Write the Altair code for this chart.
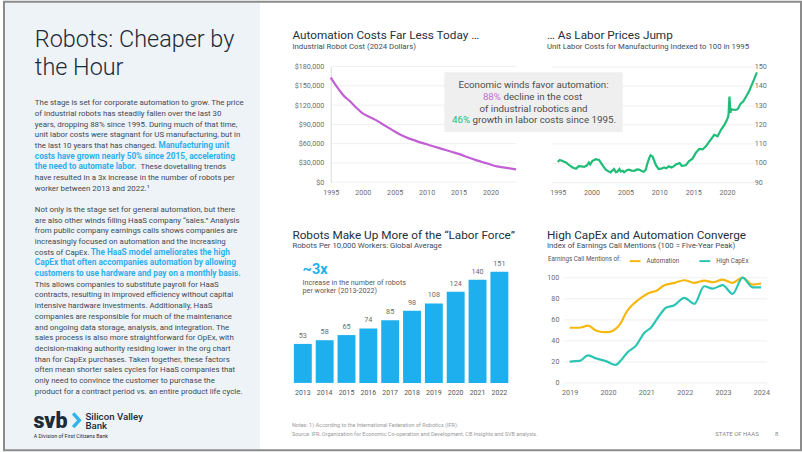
import altair as alt
import pandas as pd

# ---------------- palette / fonts ----------------
FONT = "Roboto"
NAVY = "#1c2a39"
BODY = "#3f4954"
HILITE = "#2cb1ee"
PANEL_BG = "#eef3f7"
AXIS_LBL = "#6b6b6b"
GRID = "#ebebeb"
PURPLE = "#c35fd5"
GREEN = "#1fbd78"
BAR_BLUE = "#1eb0ee"
GOLD = "#f6b70f"
TEAL = "#2cc5b3"
TITLE_C = "#223040"
SUB_C = "#3e4c5a"

# ---------------- data ----------------
cost_years = list(range(1995, 2025))
robot_cost = [163000, 148000, 135000, 126000, 116000, 107000, 102000, 97000, 91000, 85000,
              79000, 73500, 69000, 65500, 62000, 59000, 56000, 53000, 50000, 47000,
              44000, 40500, 37000, 33500, 30500, 27500, 24500, 23000, 21500, 20000]
cost_ticks = [0, 30000, 60000, 90000, 120000, 150000, 180000]
year_ticks_top = [1995, 2000, 2005, 2010, 2015, 2020]

labor_time = [1995.0, 1995.3, 1995.7, 1996.2, 1996.7, 1997.2, 1997.7, 1998.1, 1998.5, 1998.9,
              1999.3, 1999.6, 1999.8, 2000.1, 2000.6, 2001.1, 2001.6, 2002.1, 2002.5, 2002.8,
              2003.3, 2003.6, 2003.8, 2004.1, 2004.3, 2004.6, 2004.8, 2005.2, 2005.5, 2005.9,
              2006.3, 2006.7, 2007.0, 2007.4, 2007.7, 2008.0, 2008.2, 2008.5, 2008.7, 2009.0,
              2009.2, 2009.5, 2009.9, 2010.3, 2010.7, 2011.0, 2011.4, 2011.8, 2012.1, 2012.5,
              2013.0, 2013.3, 2013.9, 2014.4, 2014.9, 2015.4, 2015.9, 2016.4, 2016.9, 2017.4,
              2018.1, 2018.6, 2019.1, 2019.6, 2020.0, 2020.2, 2020.35, 2020.5, 2020.6, 2020.9,
              2021.3, 2021.6, 2022.0, 2022.4, 2022.9, 2023.3, 2023.6, 2024.0, 2024.4]
labor_index = [100.5, 101.5, 101.0, 100.2, 98.8, 97.6, 97.0, 98.3, 98.2, 98.0,
               98.6, 100.2, 99.2, 101.0, 101.9, 101.5, 98.8, 96.5, 95.6, 95.1,
               96.8, 95.2, 95.4, 96.8, 95.5, 95.9, 95.1, 96.2, 96.5, 96.0,
               95.9, 96.6, 96.5, 95.8, 95.4, 96.5, 99.3, 102.5, 103.9, 103.3,
               101.5, 98.8, 96.8, 97.0, 97.6, 97.2, 98.2, 97.6, 98.2, 99.3,
               99.9, 98.5, 98.8, 101.0, 102.2, 105.3, 107.3, 107.0, 108.7, 111.2,
               114.6, 113.8, 117.2, 119.7, 122.5, 124.5, 134.5, 126.0, 128.0, 127.6,
               127.5, 128.0, 130.8, 132.0, 135.0, 137.6, 140.1, 143.5, 147.0]
labor_ticks = [90, 100, 110, 120, 130, 140, 150]

bar_years = ["2013", "2014", "2015", "2016", "2017", "2018", "2019", "2020", "2021", "2022"]
robots_per_10k = [53, 58, 65, 74, 85, 98, 108, 124, 140, 151]

auto_time = [2019.0, 2019.25, 2019.48, 2019.7, 2019.9, 2020.05, 2020.2, 2020.34, 2020.47, 2020.65,
             2020.86, 2021.08, 2021.25, 2021.47, 2021.73, 2021.99, 2022.25, 2022.51, 2022.73, 2022.99,
             2023.25, 2023.51, 2023.77, 2023.99]
automation_idx = [52.5, 52.5, 54.5, 49.6, 48.4, 48.6, 51.5, 57.3, 66.8, 74.7,
                  81.0, 85.8, 87.5, 93.0, 95.2, 97.7, 95.2, 97.4, 95.8, 98.4,
                  95.2, 100.3, 93.6, 94.6]
capex_time = [2019.0, 2019.26, 2019.48, 2019.7, 2019.96, 2020.2, 2020.34, 2020.5, 2020.73, 2020.95,
              2021.12, 2021.3, 2021.51, 2021.73, 2021.99, 2022.25, 2022.51, 2022.73, 2022.99, 2023.25,
              2023.51, 2023.77, 2023.99]
capex_idx = [20.3, 20.9, 26.2, 23.2, 20.5, 17.1, 21.5, 28.8, 35.5, 47.8,
             52.6, 62.0, 71.5, 74.0, 81.0, 75.3, 92.0, 89.8, 93.0, 84.8,
             100.3, 91.0, 91.0]
mention_ticks = [0, 20, 40, 60, 80, 100]
mention_years = [2019, 2020, 2021, 2022, 2023, 2024]

# ---------------- text content ----------------
para1 = [
    [("The stage is set for corporate automation to grow. The price", False)],
    [("of industrial robots has steadily fallen over the last 30", False)],
    [("years, dropping 88% since 1995. During much of that time,", False)],
    [("unit labor costs were stagnant for US manufacturing, but in", False)],
    [("the last 10 years that has changed.", False), ("Manufacturing unit", True)],
    [("costs have grown nearly 50% since 2015, accelerating", True)],
    [("the need to automate labor.", True), ("These dovetailing trends", False)],
    [("have resulted in a 3x increase in the number of robots per", False)],
    [("worker between 2013 and 2022.\u00b9", False)],
]
para2 = [
    [("Not only is the stage set for general automation, but there", False)],
    [("are also other winds filling HaaS company \u201csales.\u201d Analysis", False)],
    [("from public company earnings calls shows companies are", False)],
    [("increasingly focused on automation and the increasing", False)],
    [("costs of CapEx.", False), ("The HaaS model ameliorates the high", True)],
    [("CapEx that often accompanies automation by allowing", True)],
    [("customers to use hardware and pay on a monthly basis.", True)],
    [("This allows companies to substitute payroll for HaaS", False)],
    [("contracts, resulting in improved efficiency without capital", False)],
    [("intensive hardware investments. Additionally, HaaS", False)],
    [("companies are responsible for much of the maintenance", False)],
    [("and ongoing data storage, analysis, and integration. The", False)],
    [("sales process is also more straightforward for OpEx, with", False)],
    [("decision-making authority residing lower in the org chart", False)],
    [("than for CapEx purchases. Taken together, these factors", False)],
    [("often mean shorter sales cycles for HaaS companies that", False)],
    [("only need to convince the customer to purchase the", False)],
    [("product for a contract period vs. an entire product life cycle.", False)],
]


def one():
    return pd.DataFrame({"a": [0]})


def label(text, x, y, size, color, weight="normal", align="left", baseline="alphabetic", **kw):
    return alt.Chart(pd.DataFrame({"t": [text]})).mark_text(
        align=align, baseline=baseline, fontSize=size, color=color, fontWeight=weight,
        font=FONT, **kw
    ).encode(x=alt.value(x), y=alt.value(y), text="t:N")


def spacer(w, h):
    return alt.Chart(one()).mark_point(opacity=0).encode(
        x=alt.value(0), y=alt.value(0)).properties(width=w, height=h)


# grid cell geometry (all plot cells share the same height)
H = 116
OY = -66           # left panel drawn relative to the top row of the grid

# ---------------- left text panel ----------------
LEFT_X = 32
LINE_H = 10.72
seg_x = {(0, 4): 156, (0, 6): 138, (1, 4): 88}
rows = []
for p_i, (para, y0) in enumerate([(para1, 102.7), (para2, 210.0)]):
    for l_i, line in enumerate(para):
        for s_i, (txt, bold) in enumerate(line):
            x = LEFT_X if s_i == 0 else seg_x[(p_i, l_i)]
            rows.append({"t": txt, "x": x, "y": y0 + l_i * LINE_H + OY, "bold": bold})
body_df = pd.DataFrame(rows)

enc = dict(x=alt.X("x:Q", scale=None, axis=None), y=alt.Y("y:Q", scale=None, axis=None), text="t:N")
body_normal = alt.Chart(body_df[~body_df.bold]).mark_text(
    align="left", baseline="middle", fontSize=7.9, color=BODY, font=FONT).encode(**enc)
body_bold = alt.Chart(body_df[body_df.bold]).mark_text(
    align="left", baseline="middle", fontSize=8.3, color=HILITE, font=FONT, fontWeight="bold").encode(**enc)

panel_bg = alt.Chart(one()).mark_rect(color=PANEL_BG).encode(
    x=alt.value(0), x2=alt.value(258), y=alt.value(OY), y2=alt.value(452 + OY))
frame = alt.Chart(one()).mark_rect(
    fillOpacity=0, stroke="#8c8c8c", strokeWidth=2).encode(
    x=alt.value(1), x2=alt.value(801), y=alt.value(1 + OY), y2=alt.value(451 + OY))
chevron = alt.Chart(one()).mark_point(
    shape="M-0.4,-1L0.5,0L-0.4,1", filled=False, strokeWidth=3.4, color="#2fb4ee", size=190,
    opacity=1).encode(x=alt.value(73.2), y=alt.value(421 + OY))

left = alt.layer(
    panel_bg,
    label("Robots: Cheaper by", LEFT_X, 46.7 + OY, 23.5, NAVY, weight=300),
    label("the Hour", LEFT_X, 74 + OY, 23.5, NAVY, weight=300),
    body_normal, body_bold,
    label("svb", 30.5, 428.3 + OY, 21.5, NAVY, weight=900),
    chevron,
    label("Silicon Valley", 82.7, 420.3 + OY, 9.7, NAVY, weight=500),
    label("Bank", 82.7, 430.2 + OY, 9.7, NAVY, weight=500),
    label("A Division of First Citizens Bank", 31, 438.6 + OY, 5.3, NAVY),
    frame,
).properties(width=258, height=H)

# ---------------- top-left: robot cost (cell x 290..518, plot 39..225) ----------------
TL_X0, TL_X1 = 39, 225
cost_df = pd.DataFrame({"year": cost_years, "cost": robot_cost})
cost_y = alt.Y("cost:Q", title=None, scale=alt.Scale(domain=[0, 180000], nice=False),
               axis=alt.Axis(values=cost_ticks, format="$,d", grid=False, labelPadding=7,
                             offset=-TL_X0, domain=True, domainColor="#dadada"))
tl_grid = alt.Chart(pd.DataFrame({"cost": cost_ticks})).mark_rule(color=GRID, strokeWidth=0.8).encode(
    y=cost_y, x=alt.value(TL_X0), x2=alt.value(TL_X1))
tl_line = alt.Chart(cost_df).mark_line(color=PURPLE, strokeWidth=2.2, interpolate="monotone").encode(
    x=alt.X("year:Q", title=None,
            scale=alt.Scale(domain=[1995, 2024], range=[TL_X0, TL_X1], nice=False, zero=False),
            axis=alt.Axis(values=year_ticks_top, format="d", grid=False, labelPadding=6,
                          labelFlush=False)),
    y=cost_y,
)
tl = alt.layer(
    tl_grid, tl_line,
    label("Automation Costs Far Less Today \u2026", 0.5, -27.7, 11.8, TITLE_C),
    label("Industrial Robot Cost (2024 Dollars)", 0.5, -17.7, 7.8, SUB_C),
).properties(width=228, height=H)

# ---------------- top-right: labor cost (cell x 550..754) ----------------
labor_df = pd.DataFrame({"t": labor_time, "v": labor_index})
tr_line = alt.Chart(labor_df).mark_line(color=GREEN, strokeWidth=2.2).encode(
    x=alt.X("t:Q", title=None, scale=alt.Scale(domain=[1994, 2024], nice=False, zero=False),
            axis=alt.Axis(values=year_ticks_top, format="d", grid=False, labelPadding=6,
                          labelFlush=False)),
    y=alt.Y("v:Q", title=None, scale=alt.Scale(domain=[90, 150], nice=False, zero=False),
            axis=alt.Axis(orient="right", values=labor_ticks, grid=True, labelPadding=0)),
)
box = alt.Chart(one()).mark_rect(color="#efefef").encode(
    x=alt.value(-107), x2=alt.value(72), y=alt.value(5.7), y2=alt.value(65.7))
BOX_TXT = "#4d4d4d"
PCT_W = 20.6   # width of a "88%"/"46%" lead-in plus its space at 9.8px
tr = alt.layer(
    tr_line,
    box,
    label("Economic winds favor automation:", -17.5, 18.5, 9.8, BOX_TXT, align="center", baseline="middle"),
    label("88%", -68.3, 30.3, 9.8, "#c86fd8", baseline="middle"),
    label("decline in the cost", -68.3 + PCT_W, 30.3, 9.8, BOX_TXT, baseline="middle"),
    label("of industrial robotics and", -17.5, 42.1, 9.8, BOX_TXT, align="center", baseline="middle"),
    label("46%", -99.3, 53.9, 9.8, GREEN, baseline="middle"),
    label("growth in labor costs since 1995.", -99.3 + PCT_W, 53.9, 9.8, BOX_TXT, baseline="middle"),
    label("\u2026 As Labor Prices Jump", -4, -27.7, 11.8, TITLE_C),
    label("Unit Labor Costs for Manufacturing Indexed to 100 in 1995", -4, -17.7, 7.8, SUB_C),
).properties(width=204, height=H)

# ---------------- bottom-left: robots per worker (cell x 290..509) ----------------
bar_df = pd.DataFrame({"year": bar_years, "robots": robots_per_10k})
bars = alt.Chart(bar_df).mark_bar(color=BAR_BLUE).encode(
    x=alt.X("year:N", title=None, scale=alt.Scale(paddingInner=0.18, paddingOuter=0.09),
            axis=alt.Axis(labelAngle=0, labelPadding=6, labelColor="#555555", labelFontSize=7)),
    y=alt.Y("robots:Q", title=None, scale=alt.Scale(domain=[0, 157], nice=False), axis=None),
)
bar_labels = bars.mark_text(dy=-8, baseline="middle", fontSize=7.3, color="#6b6b6b", font=FONT).encode(
    text="robots:Q")
FOOT = "#9a9a9a"
bl = alt.layer(
    bars, bar_labels,
    label("~3x", 10.7, 6.3, 14.5, BAR_BLUE, weight="bold"),
    label("Increase in the number of robots", 10.7, 17.6, 7.2, "#5a5a5a"),
    label("per worker (2013-2022)", 10.7, 26.2, 7.2, "#5a5a5a"),
    label("Robots Make Up More of the \u201cLabor Force\u201d", 0.5, -28.5, 11.8, TITLE_C),
    label("Robots Per 10,000 Workers: Global Average", 0.5, -19.2, 7.8, SUB_C),
    label("Notes: 1) According to the International Federation of Robotics (IFR).", 0, 158.2, 5.5, FOOT,
          baseline="middle"),
    label("Source: IFR, Organization for Economic Co-operation and Development, CB Insights and SVB analysis.",
          0, 167.5, 5.5, FOOT, baseline="middle"),
).properties(width=219.2, height=H)

# ---------------- bottom-right: earnings call mentions (cell x 550..767, plot 13..217) ----------------
BR_X0, BR_X1 = 13, 217
mention_df = pd.concat([
    pd.DataFrame({"t": auto_time, "v": automation_idx, "series": "Automation"}),
    pd.DataFrame({"t": capex_time, "v": capex_idx, "series": "High CapEx"}),
])
men_y = alt.Y("v:Q", title=None, scale=alt.Scale(domain=[0, 110], nice=False),
              axis=alt.Axis(values=mention_ticks, grid=False, labelPadding=5, offset=-BR_X0))
br_grid = alt.Chart(pd.DataFrame({"v": mention_ticks})).mark_rule(color=GRID, strokeWidth=0.8).encode(
    y=men_y, x=alt.value(BR_X0), x2=alt.value(BR_X1))
br_lines = alt.Chart(mention_df).mark_line(strokeWidth=2.2, interpolate="monotone").encode(
    x=alt.X("t:Q", title=None,
            scale=alt.Scale(domain=[2018.85, 2024.15], range=[BR_X0, BR_X1], nice=False, zero=False),
            axis=alt.Axis(values=mention_years, format="d", grid=False, labelPadding=6,
                          labelFlush=False)),
    y=men_y,
    color=alt.Color("series:N",
                    scale=alt.Scale(domain=["Automation", "High CapEx"], range=[GOLD, TEAL]),
                    legend=alt.Legend(title="Earnings Call Mentions of:", orient="none",
                                      legendX=-3, legendY=-13, direction="horizontal",
                                      titleOrient="left", titleFontSize=6.3, titleFontWeight="normal",
                                      titleColor="#555555", titleFont=FONT, titlePadding=7,
                                      labelFontSize=6.3, labelColor="#555555", labelFont=FONT,
                                      symbolType="stroke", symbolStrokeWidth=2, symbolSize=120,
                                      labelOffset=5, columnPadding=16, padding=0)),
)
br = alt.layer(
    br_grid, br_lines,
    label("High CapEx and Automation Converge", -4, -28.5, 11.8, TITLE_C),
    label("Index of Earnings Call Mentions (100 = Five-Year Peak)", -4, -19.2, 7.8, SUB_C),
    label("STATE OF HAAS", 165, 166.8, 6, "#8a8a8a", baseline="middle"),
    label("8", 225, 166.8, 6, "#8a8a8a", baseline="middle"),
).properties(width=217, height=H)

# ---------------- layout: one flat 3x2 grid ----------------
chart = alt.concat(
    left, tl, tr,
    spacer(258, H), bl, br,
    columns=3, spacing={"row": 85.5, "column": 32}, bounds="flush", align="each",
).resolve_scale(color="independent").properties(
    padding=0, background="#ffffff"
).configure_view(stroke=None).configure_axis(
    labelFont=FONT, labelFontSize=7.2, labelColor=AXIS_LBL, ticks=False, domain=False,
    gridColor=GRID, gridWidth=0.8
)

chart.save("out.html", embed_options={"renderer": "svg", "actions": False})
